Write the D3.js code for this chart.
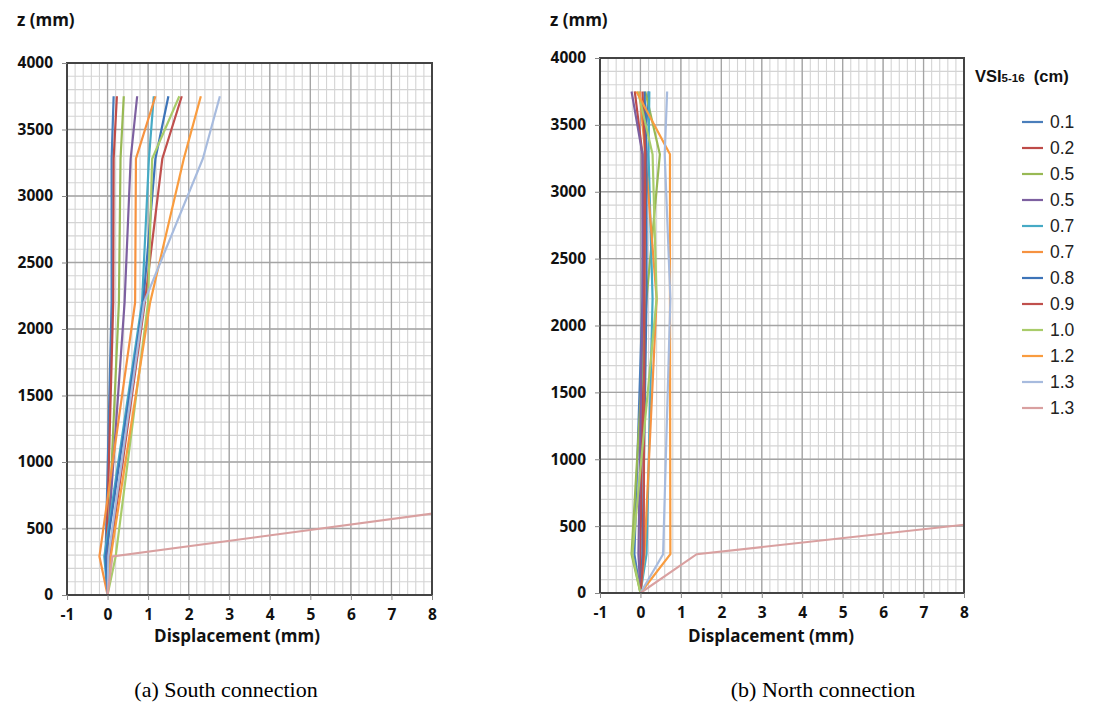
<!DOCTYPE html>
<html>
<head>
<meta charset="utf-8">
<script src="https://cdn.jsdelivr.net/npm/d3@7"></script>
<style>
  body { margin: 0; background: #fff; }
  svg { display: block; }
</style>
</head>
<body>
<script>
// measurement heights (mm)
var zLevels = [0, 290, 2200, 3280, 3750];

// legend labels (VSI 5-16, cm) and colours
var vsiLabels = ["0.1", "0.2", "0.5", "0.5", "0.7", "0.7", "0.8", "0.9", "1.0", "1.2", "1.3", "1.3"];
var colours = ["#4a7ebb", "#be4b48", "#98b954", "#7d60a0", "#46aac5", "#f69240",
               "#3d74b8", "#c0504d", "#a9cc6a", "#f99c3f", "#a7bbde", "#d9a0a0"];

// displacement (mm) at each height, south connection
var south = [
  [0, -0.05, 0.10, 0.10, 0.15],
  [0, -0.03, 0.14, 0.15, 0.23],
  [0, 0.00, 0.28, 0.32, 0.40],
  [0, -0.02, 0.42, 0.57, 0.73],
  [0, -0.08, 0.85, 1.02, 1.14],
  [0, -0.20, 0.68, 0.70, 1.18],
  [0, -0.05, 0.88, 1.18, 1.50],
  [0, 0.05, 0.92, 1.35, 1.83],
  [0, 0.20, 1.00, 1.10, 1.77],
  [0, 0.08, 1.05, 1.88, 2.30],
  [0, 0.02, 0.90, 2.35, 2.77],
  [0, 0.12, 47, 74, 85]
];

// displacement (mm) at each height, north connection
var north = [
  [0, -0.15, 0.05, 0.10, 0.20],
  [0, 0.00, 0.08, 0.05, -0.14],
  [0, -0.22, 0.15, 0.48, 0.12],
  [0, -0.05, 0.05, 0.05, -0.22],
  [0, 0.15, 0.30, 0.20, 0.22],
  [0, 0.10, 0.40, 0.12, -0.02],
  [0, 0.05, 0.15, 0.15, 0.10],
  [0, 0.08, 0.10, 0.12, 0.05],
  [0, -0.20, 0.40, 0.30, -0.06],
  [0, 0.74, 0.73, 0.73, -0.10],
  [0, 0.56, 0.74, 0.60, 0.66],
  [0, 1.39, 58.7, 91, 105]
];

var xTicks = [-1, 0, 1, 2, 3, 4, 5, 6, 7, 8];
var yTicks = [0, 500, 1000, 1500, 2000, 2500, 3000, 3500, 4000];

var W = 1106, H = 707;
var svg = d3.select("body").append("svg").attr("width", W).attr("height", H);

var tickFont = "'Open Sans', 'DejaVu Sans', sans-serif";
var fmt = d => String(d);   // plain hyphen minus, no thousands separator

function drawPanel(id, data, box) {
  var x = d3.scaleLinear().domain([-1, 8]).range([box.left, box.right]);
  var y = d3.scaleLinear().domain([0, 4000]).range([box.bottom, box.top]);
  var g = svg.append("g");

  // minor grid
  var minorX = d3.range(-1, 8.001, 0.2), minorY = d3.range(0, 4001, 100);
  g.selectAll(".mx").data(minorX).enter().append("line")
    .attr("x1", d => x(d)).attr("x2", d => x(d))
    .attr("y1", box.top).attr("y2", box.bottom)
    .attr("stroke", "#d4d4d4").attr("stroke-width", 1.1);
  g.selectAll(".my").data(minorY).enter().append("line")
    .attr("x1", box.left).attr("x2", box.right)
    .attr("y1", d => y(d)).attr("y2", d => y(d))
    .attr("stroke", "#d4d4d4").attr("stroke-width", 1.1);
  // major grid
  g.selectAll(".Mx").data(xTicks).enter().append("line")
    .attr("x1", d => x(d)).attr("x2", d => x(d))
    .attr("y1", box.top).attr("y2", box.bottom)
    .attr("stroke", "#a4a4a4").attr("stroke-width", 1.3);
  g.selectAll(".My").data(yTicks).enter().append("line")
    .attr("x1", box.left).attr("x2", box.right)
    .attr("y1", d => y(d)).attr("y2", d => y(d))
    .attr("stroke", "#a4a4a4").attr("stroke-width", 1.3);

  // series
  svg.append("clipPath").attr("id", id)
    .append("rect").attr("x", box.left).attr("y", box.top)
    .attr("width", box.right - box.left).attr("height", box.bottom - box.top);
  var line = d3.line().x(d => x(d[0])).y(d => y(d[1]));
  g.append("g").attr("clip-path", "url(#" + id + ")")
    .selectAll("path").data(data).enter().append("path")
    .attr("d", s => line(s.map((v, i) => [v, zLevels[i]])))
    .attr("fill", "none")
    .attr("stroke", (s, i) => colours[i])
    .attr("stroke-width", 2.2);

  // frame
  g.append("rect").attr("x", box.left).attr("y", box.top)
    .attr("width", box.right - box.left).attr("height", box.bottom - box.top)
    .attr("fill", "none").attr("stroke", "#444").attr("stroke-width", 2);

  // axes
  var xa = g.append("g").attr("transform", "translate(0," + box.bottom + ")")
    .call(d3.axisBottom(x).tickValues(xTicks).tickFormat(fmt).tickSize(5).tickPadding(9));
  var ya = g.append("g").attr("transform", "translate(" + box.left + ",0)")
    .call(d3.axisLeft(y).tickValues(yTicks).tickFormat(fmt).tickSize(5).tickPadding(9));
  [xa, ya].forEach(function(a) {
    a.select(".domain").remove();
    a.selectAll("line").attr("stroke", "#888");
    a.selectAll("text").attr("font-family", tickFont).attr("font-weight", "bold")
      .attr("font-size", "15.5px").attr("fill", "#111");
  });

  g.append("text").attr("x", box.left - 50).attr("y", 26)
    .attr("font-family", tickFont).attr("font-weight", "bold")
    .attr("font-size", "17px").attr("fill", "#111").text("z (mm)");
  g.append("text").attr("x", box.xlab).attr("y", 642)
    .attr("text-anchor", "middle")
    .attr("font-family", tickFont).attr("font-weight", "bold")
    .attr("font-size", "17px").attr("fill", "#111").text("Displacement  (mm)");
  g.append("text").attr("x", box.cap).attr("y", 697)
    .attr("text-anchor", "middle")
    .attr("font-family", "'Liberation Serif', 'Times New Roman', serif")
    .attr("font-size", "22px").attr("fill", "#000").text(box.caption);
}

drawPanel("clipS", south, {left: 67, right: 432, top: 63, bottom: 595, xlab: 237, cap: 226,
  caption: "(a) South connection"});
drawPanel("clipN", north, {left: 600, right: 964, top: 58, bottom: 593, xlab: 771, cap: 823,
  caption: "(b) North connection"});

// legend
var leg = svg.append("g");
var title = leg.append("text").attr("x", 975).attr("y", 82)
  .attr("font-family", "'Liberation Sans', Arial, sans-serif").attr("font-weight", "bold")
  .attr("font-size", "16.5px").attr("fill", "#111");
title.append("tspan").text("VSI");
title.append("tspan").attr("font-size", "11.5px").text("5-16");
title.append("tspan").attr("xml:space", "preserve").text("  (cm)");

var ly = d3.scalePoint().domain(d3.range(vsiLabels.length)).range([122, 408]);
var items = leg.selectAll(".item").data(vsiLabels).enter().append("g")
  .attr("transform", (d, i) => "translate(0," + ly(i) + ")");
items.append("line").attr("x1", 1022).attr("x2", 1043).attr("y1", 0).attr("y2", 0)
  .attr("stroke", (d, i) => colours[i]).attr("stroke-width", 2.2);
items.append("text").attr("x", 1050).attr("y", 0).attr("dy", "0.36em")
  .attr("font-family", "'Liberation Sans', Arial, sans-serif")
  .attr("font-size", "17.5px").attr("fill", "#222").text(d => d);
</script>
</body>
</html>
